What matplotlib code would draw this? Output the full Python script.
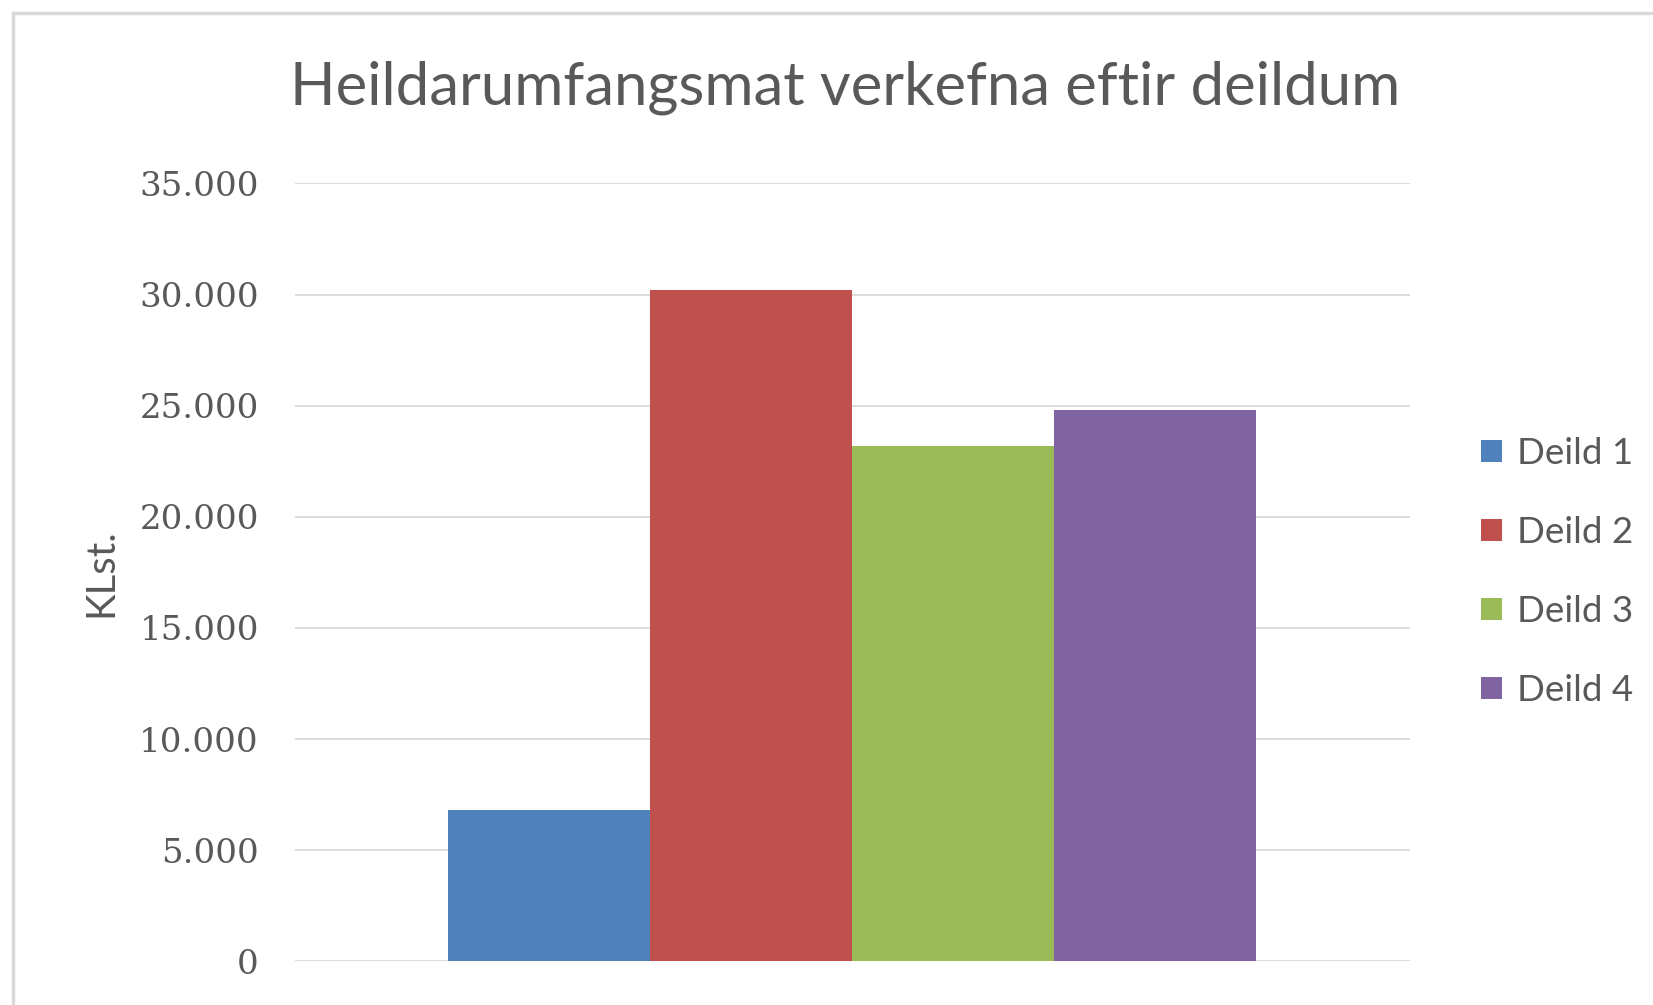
import matplotlib
matplotlib.use("Agg")
import matplotlib.pyplot as plt
from matplotlib.patches import Rectangle

# data
deildir = ['Deild 1', 'Deild 2', 'Deild 3', 'Deild 4']
klst = [6800, 30200, 23200, 24800]
litir = ['#4F81BD', '#C0504D', '#9BBB59', '#8064A2']
yticks = [0, 5000, 10000, 15000, 20000, 25000, 30000, 35000]
ytick_labels = ['0', '5.000', '10.000', '15.000', '20.000', '25.000', '30.000', '35.000']

grey = '#595959'

fig = plt.figure(figsize=(16.53, 10.05), dpi=100)
fig.patch.set_facecolor('white')

# chart frame (light grey border, cut off at right/bottom)
fig.patches.append(Rectangle((13/1653, -0.05), 1.1, 1 - 13/1005 + 0.05,
                             transform=fig.transFigure, fill=False,
                             edgecolor='#D9D9D9', linewidth=2.5))

ax = fig.add_axes([295/1653, 1 - 961.4/1005, (1409.6 - 295)/1653, (961.4 - 183.4)/1005])

w = 0.7246 / len(klst)
for i, (lab, v, c) in enumerate(zip(deildir, klst, litir)):
    ax.bar((i - 1.5) * w, v, width=w, color=c, label=lab, zorder=3)

ax.set_xlim(-0.5, 0.5)
ax.set_ylim(0, 35000)
ax.set_yticks(yticks)
ax.set_yticklabels(ytick_labels, family='DejaVu Serif', fontsize=24.5, color=grey)
ax.set_xticks([])
ax.tick_params(axis='y', length=0, pad=26)
ax.grid(axis='y', color='#D9D9D9', linewidth=1.3, zorder=0)
for s in ax.spines.values():
    s.set_visible(False)

ax.set_ylabel('KLst.', family='Lato', fontsize=29, color=grey, labelpad=14)

fig.text(845/1653, 1 - 88/1005, 'Heildarumfangsmat verkefna eftir deildum',
         family='Lato', fontsize=43, color=grey, ha='center', va='center')

fig.legend(loc='center left', bbox_to_anchor=(1481/1653, 1 - 572/1005),
           frameon=False, prop={'family': 'Lato', 'size': 26.5},
           labelcolor=grey, handlelength=0.57, handleheight=0.57,
           handletextpad=0.4, labelspacing=1.25, borderpad=0, borderaxespad=0)

fig.savefig('out.png', dpi=100, facecolor='white')
